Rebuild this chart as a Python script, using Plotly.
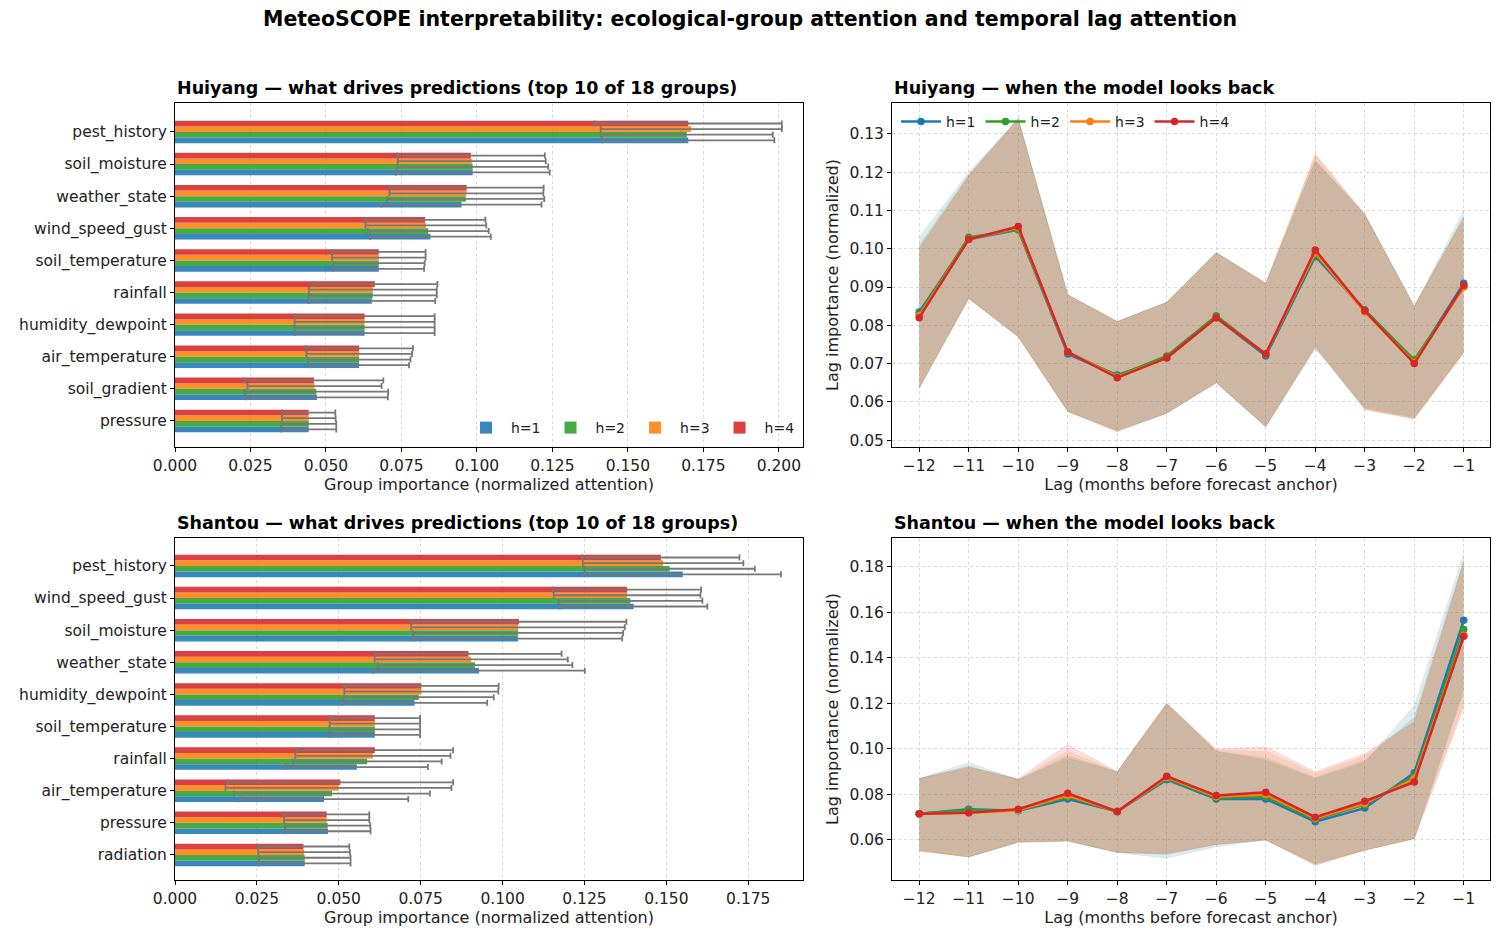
import plotly.graph_objects as go

W, H = 1485, 925   # page adds 8px body margin on each side
OFF = 8
def fx(px): return (px - OFF) / W
def fy(py): return 1 - (py - OFF) / H

horizons = ["h=1", "h=2", "h=3", "h=4"]
colors = ["#1f77b4", "#2ca02c", "#ff7f0e", "#d62728"]
fills = ["rgba(31,119,180,0.15)", "rgba(44,160,44,0.15)", "rgba(255,127,14,0.15)", "rgba(214,39,40,0.15)"]

# ---- Huiyang group importance (top to bottom) ----
hy_groups = ["pest_history", "soil_moisture", "weather_state", "wind_speed_gust", "soil_temperature",
             "rainfall", "humidity_dewpoint", "air_temperature", "soil_gradient", "pressure"]
hy_vals = {
    "h=1": [0.170, 0.0986, 0.0949, 0.0846, 0.0675, 0.0652, 0.0628, 0.0610, 0.0470, 0.0443],
    "h=2": [0.1695, 0.0986, 0.0963, 0.0839, 0.0675, 0.0655, 0.0628, 0.0610, 0.0468, 0.0443],
    "h=3": [0.171, 0.0983, 0.0965, 0.0831, 0.0675, 0.0655, 0.0628, 0.0610, 0.0462, 0.0443],
    "h=4": [0.170, 0.0980, 0.0966, 0.0828, 0.0675, 0.0662, 0.0628, 0.0610, 0.0460, 0.0443],
}
hy_err = {
    "h=1": [0.0285, 0.0255, 0.0265, 0.0200, 0.0150, 0.0210, 0.0232, 0.0165, 0.0235, 0.0091],
    "h=2": [0.0285, 0.0250, 0.0260, 0.0200, 0.0152, 0.0212, 0.0232, 0.0170, 0.0238, 0.0091],
    "h=3": [0.0300, 0.0245, 0.0255, 0.0200, 0.0155, 0.0212, 0.0232, 0.0175, 0.0222, 0.0089],
    "h=4": [0.0310, 0.0245, 0.0255, 0.0200, 0.0155, 0.0207, 0.0232, 0.0178, 0.0230, 0.0088],
}

# ---- Shantou group importance ----
st_groups = ["pest_history", "wind_speed_gust", "soil_moisture", "weather_state", "humidity_dewpoint",
             "soil_temperature", "rainfall", "air_temperature", "pressure", "radiation"]
st_vals = {
    "h=1": [0.155, 0.140, 0.1047, 0.0928, 0.0731, 0.0610, 0.0555, 0.0455, 0.0467, 0.0396],
    "h=2": [0.151, 0.139, 0.1047, 0.0916, 0.0744, 0.0610, 0.0587, 0.0479, 0.0466, 0.0396],
    "h=3": [0.149, 0.138, 0.1047, 0.0904, 0.0752, 0.0610, 0.0604, 0.0499, 0.0463, 0.0394],
    "h=4": [0.1483, 0.138, 0.1050, 0.0896, 0.0752, 0.0610, 0.0610, 0.0505, 0.0463, 0.0392],
}
st_err = {
    "h=1": [0.0300, 0.0225, 0.0318, 0.0323, 0.0222, 0.0138, 0.0217, 0.0257, 0.0130, 0.0140],
    "h=2": [0.0260, 0.0220, 0.0321, 0.0297, 0.0229, 0.0138, 0.0227, 0.0299, 0.0130, 0.0140],
    "h=3": [0.0245, 0.0224, 0.0326, 0.0295, 0.0235, 0.0138, 0.0237, 0.0345, 0.0130, 0.0140],
    "h=4": [0.0240, 0.0226, 0.0328, 0.0284, 0.0236, 0.0138, 0.0239, 0.0344, 0.0130, 0.0140],
}

# ---- Lag attention ----
lags = [-12, -11, -10, -9, -8, -7, -6, -5, -4, -3, -2, -1]
hy_lag = {
    "h=1": [0.0835, 0.1025, 0.1050, 0.0725, 0.0670, 0.0715, 0.0820, 0.0720, 0.0980, 0.0840, 0.0705, 0.0910],
    "h=2": [0.0830, 0.1030, 0.1050, 0.0730, 0.0668, 0.0720, 0.0825, 0.0725, 0.0985, 0.0840, 0.0710, 0.0900],
    "h=3": [0.0825, 0.1025, 0.1055, 0.0730, 0.0665, 0.0715, 0.0820, 0.0725, 0.0990, 0.0835, 0.0703, 0.0900],
    "h=4": [0.0820, 0.1025, 0.1058, 0.0730, 0.0663, 0.0715, 0.0820, 0.0725, 0.0997, 0.0838, 0.0700, 0.0905],
}
hy_hi = {
    "h=1": [0.1030, 0.1200, 0.1340, 0.0880, 0.0810, 0.0860, 0.0990, 0.0910, 0.1230, 0.1090, 0.0850, 0.1100],
    "h=2": [0.1010, 0.1195, 0.1340, 0.0880, 0.0810, 0.0860, 0.0990, 0.0910, 0.1230, 0.1090, 0.0850, 0.1085],
    "h=3": [0.1005, 0.1190, 0.1340, 0.0880, 0.0810, 0.0860, 0.0990, 0.0910, 0.1250, 0.1090, 0.0850, 0.1080],
    "h=4": [0.1000, 0.1190, 0.1340, 0.0880, 0.0810, 0.0860, 0.0990, 0.0910, 0.1245, 0.1090, 0.0850, 0.1080],
}
hy_lo = {
    "h=1": [0.0640, 0.0870, 0.0770, 0.0575, 0.0525, 0.0570, 0.0650, 0.0535, 0.0740, 0.0585, 0.0560, 0.0730],
    "h=2": [0.0635, 0.0870, 0.0770, 0.0575, 0.0525, 0.0570, 0.0650, 0.0535, 0.0740, 0.0582, 0.0558, 0.0730],
    "h=3": [0.0635, 0.0870, 0.0770, 0.0575, 0.0522, 0.0570, 0.0650, 0.0535, 0.0745, 0.0580, 0.0555, 0.0728],
    "h=4": [0.0635, 0.0870, 0.0770, 0.0575, 0.0522, 0.0570, 0.0650, 0.0535, 0.0745, 0.0580, 0.0555, 0.0728],
}
st_lag = {
    "h=1": [0.0715, 0.0735, 0.0728, 0.0780, 0.0725, 0.0865, 0.0780, 0.0780, 0.0680, 0.0740, 0.0895, 0.1565],
    "h=2": [0.0715, 0.0730, 0.0730, 0.0790, 0.0725, 0.0870, 0.0785, 0.0790, 0.0690, 0.0755, 0.0880, 0.1525],
    "h=3": [0.0715, 0.0720, 0.0730, 0.0795, 0.0725, 0.0875, 0.0790, 0.0800, 0.0695, 0.0760, 0.0870, 0.1500],
    "h=4": [0.0715, 0.0720, 0.0735, 0.0805, 0.0725, 0.0880, 0.0795, 0.0810, 0.0700, 0.0770, 0.0855, 0.1495],
}
st_hi = {
    "h=1": [0.0870, 0.0940, 0.0865, 0.0960, 0.0900, 0.1200, 0.0990, 0.0950, 0.0870, 0.0940, 0.1190, 0.1860],
    "h=2": [0.0870, 0.0925, 0.0865, 0.0970, 0.0900, 0.1200, 0.0990, 0.0960, 0.0875, 0.0950, 0.1140, 0.1830],
    "h=3": [0.0870, 0.0920, 0.0865, 0.0990, 0.0900, 0.1200, 0.0995, 0.0990, 0.0890, 0.0970, 0.1120, 0.1820],
    "h=4": [0.0870, 0.0920, 0.0870, 0.1020, 0.0900, 0.1200, 0.1000, 0.1010, 0.0900, 0.0980, 0.1120, 0.1820],
}
st_lo = {
    "h=1": [0.0555, 0.0525, 0.0590, 0.0595, 0.0545, 0.0520, 0.0570, 0.0600, 0.0495, 0.0555, 0.0605, 0.1270],
    "h=2": [0.0555, 0.0525, 0.0590, 0.0595, 0.0545, 0.0535, 0.0580, 0.0600, 0.0495, 0.0555, 0.0605, 0.1250],
    "h=3": [0.0550, 0.0525, 0.0590, 0.0595, 0.0545, 0.0540, 0.0580, 0.0600, 0.0490, 0.0555, 0.0605, 0.1200],
    "h=4": [0.0550, 0.0525, 0.0590, 0.0595, 0.0545, 0.0540, 0.0580, 0.0600, 0.0488, 0.0555, 0.0605, 0.1180],
}

FONT = "DejaVu Sans"
fig = go.Figure()

def add_bars(groups, vals, errs, xa, ya, legend):
    for i, h in enumerate(horizons):
        fig.add_trace(go.Bar(
            y=groups, x=vals[h], orientation="h", name=h, marker_color=colors[i], opacity=0.88,
            marker_line_width=0,
            error_x=dict(type="data", array=errs[h], color="#666666", thickness=1.8, width=3),
            xaxis=xa, yaxis=ya, showlegend=legend, legend="legend", legendgroup="b" + h))

def add_lines(vals, hi, lo, xa, ya, legend):
    for i, h in enumerate(horizons):
        fig.add_trace(go.Scatter(x=lags, y=lo[h], mode="lines", line=dict(width=0.6, color=fills[i]),
                                 xaxis=xa, yaxis=ya, showlegend=False, hoverinfo="skip"))
        fig.add_trace(go.Scatter(x=lags, y=hi[h], mode="lines", line=dict(width=0.6, color=fills[i]),
                                 fill="tonexty", fillcolor=fills[i],
                                 xaxis=xa, yaxis=ya, showlegend=False, hoverinfo="skip"))
    for i, h in enumerate(horizons):
        fig.add_trace(go.Scatter(x=lags, y=vals[h], mode="lines+markers", name=h,
                                 line=dict(color=colors[i], width=2.5), marker=dict(size=7.5, color=colors[i]),
                                 xaxis=xa, yaxis=ya, showlegend=legend, legend="legend2"))

add_bars(hy_groups, hy_vals, hy_err, "x", "y", True)
add_lines(hy_lag, hy_hi, hy_lo, "x2", "y2", True)
add_bars(st_groups, st_vals, st_err, "x3", "y3", False)
add_lines(st_lag, st_hi, st_lo, "x4", "y4", False)

X_L = [fx(175), fx(803)]
X_R = [fx(892), fx(1490)]
Y_T = [fy(447), fy(103)]
Y_B = [fy(880), fy(538)]

grid = dict(showgrid=True, gridcolor="#d9d9d9", griddash="dot", gridwidth=1)
frame = dict(showline=True, linecolor="black", linewidth=1, mirror=True, ticks="outside",
             ticklen=4, tickcolor="black", tickfont=dict(size=15.5, color="#222"), zeroline=False,
             automargin=False)
titlef = dict(size=16, color="#222")

fig.update_layout(
    width=W, height=H, margin=dict(l=0, r=0, t=0, b=0), autosize=False,
    paper_bgcolor="white", plot_bgcolor="white",
    font=dict(family=FONT, color="#222"),
    barmode="group", bargap=0.3, bargroupgap=0,
    xaxis=dict(domain=X_L, anchor="y", range=[0, 0.208], dtick=0.025, tickformat=".3f",
               title=dict(text="Group importance (normalized attention)", font=titlef, standoff=5), **grid, **frame),
    yaxis=dict(domain=Y_T, anchor="x", categoryorder="array", categoryarray=hy_groups[::-1],
               range=[-0.81, 9.9], showgrid=False, **frame),
    xaxis2=dict(domain=X_R, anchor="y2", range=[-12.55, -0.47], tickvals=lags,
                ticktext=["\u2212" + str(-l) for l in lags],
                title=dict(text="Lag (months before forecast anchor)", font=titlef, standoff=5), **grid, **frame),
    yaxis2=dict(domain=Y_T, anchor="x2", range=[0.0482, 0.1381], dtick=0.01, tickformat=".2f",
                title=dict(text="Lag importance (normalized)", font=titlef, standoff=6), **grid, **frame),
    xaxis3=dict(domain=X_L, anchor="y3", range=[0, 0.1917], dtick=0.025, tickformat=".3f",
                title=dict(text="Group importance (normalized attention)", font=titlef, standoff=5), **grid, **frame),
    yaxis3=dict(domain=Y_B, anchor="x3", categoryorder="array", categoryarray=st_groups[::-1],
                range=[-0.78, 9.87], showgrid=False, **frame),
    xaxis4=dict(domain=X_R, anchor="y4", range=[-12.55, -0.47], tickvals=lags,
                ticktext=["\u2212" + str(-l) for l in lags],
                title=dict(text="Lag (months before forecast anchor)", font=titlef, standoff=5), **grid, **frame),
    yaxis4=dict(domain=Y_B, anchor="x4", range=[0.0424, 0.1927], dtick=0.02, tickformat=".2f",
                title=dict(text="Lag importance (normalized)", font=titlef, standoff=6), **grid, **frame),
    legend=dict(orientation="h", x=fx(800), xanchor="right", y=fy(428), yanchor="middle",
                bgcolor="rgba(255,255,255,0)", font=dict(size=14), itemwidth=40, tracegroupgap=0),
    legend2=dict(orientation="h", x=fx(896), xanchor="left", y=fy(122), yanchor="middle",
                 bgcolor="rgba(255,255,255,0)", font=dict(size=14), itemwidth=40),
)

annos = [
    dict(text="<b>MeteoSCOPE interpretability: ecological-group attention and temporal lag attention</b>",
         x=fx(750), y=fy(19), font=dict(size=20.5, color="black")),
    dict(text="<b>Huiyang \u2014 what drives predictions (top 10 of 18 groups)</b>", x=X_L[0], y=fy(88),
         xanchor="left", font=dict(size=17.5, color="black")),
    dict(text="<b>Huiyang \u2014 when the model looks back</b>", x=X_R[0], y=fy(88),
         xanchor="left", font=dict(size=17.5, color="black")),
    dict(text="<b>Shantou \u2014 what drives predictions (top 10 of 18 groups)</b>", x=X_L[0], y=fy(523),
         xanchor="left", font=dict(size=17.5, color="black")),
    dict(text="<b>Shantou \u2014 when the model looks back</b>", x=X_R[0], y=fy(523),
         xanchor="left", font=dict(size=17.5, color="black")),
]
for a in annos:
    a.setdefault("xanchor", "center")
    fig.add_annotation(xref="paper", yref="paper", showarrow=False, yanchor="middle", **a)

fig.write_html("out.html")
